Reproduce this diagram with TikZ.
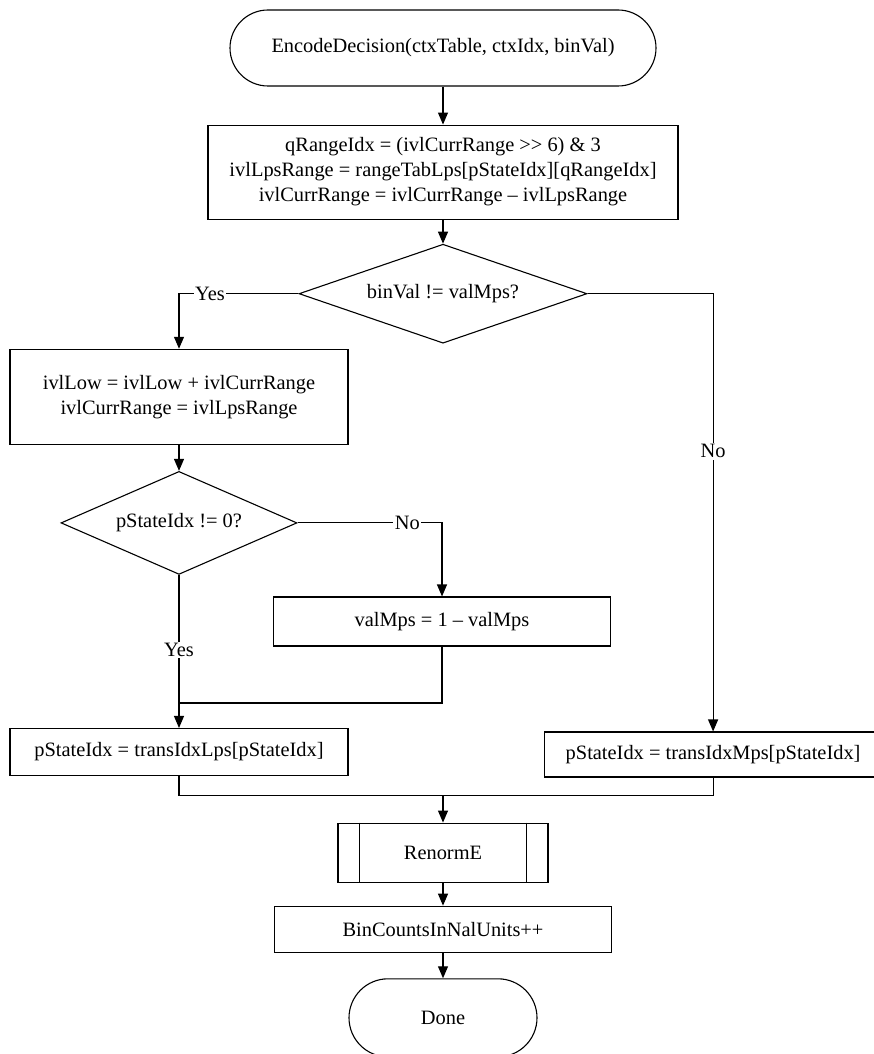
\documentclass[tikz,border=0pt]{standalone}
\usepackage{fontspec}
\setmainfont{Liberation Serif}
\usepackage{tikz}
\usetikzlibrary{shapes.geometric, arrows.meta, positioning}
\tikzstyle{terminal} = [rectangle, rounded corners=38pt, minimum width=426pt, minimum height=76pt, text centered, draw]
\tikzstyle{process} = [rectangle, minimum width=337pt, minimum height=47pt, text centered, align=center, draw]
\tikzstyle{decision} = [diamond, aspect=2.6, inner sep=0pt, text centered, draw]
\tikzstyle{subproc} = [rectangle, minimum width=210pt, minimum height=59pt, text centered, draw]
\tikzstyle{arrow} = [->, >={Triangle[length=12pt,width=10pt]}]
\tikzstyle{lbl} = [fill=white, inner sep=1.5pt]

\begin{document}
\begin{tikzpicture}[line width=1.1pt, font=\fontsize{20.4}{25}\selectfont]
        \useasboundingbox (0,0) rectangle (874pt,-1054pt);
        % Nodes
        \node (start) [terminal] at (443pt,-48pt) {EncodeDecision(ctxTable, ctxIdx, binVal)};
        \node (range) [process, below=38pt of start, minimum width=470pt, minimum height=94pt] {qRangeIdx = (ivlCurrRange >{}> 6) \& 3\\ivlLpsRange = rangeTabLps[pStateIdx][qRangeIdx]\\ivlCurrRange = ivlCurrRange – ivlLpsRange};
        \node (dec1) [decision, below=24pt of range, minimum width=288pt, minimum height=99pt] {binVal != valMps?};

        % Yes branch
        \node (update) [process, below=5pt of dec1, xshift=-264pt, minimum width=338pt, minimum height=95pt] {ivlLow = ivlLow + ivlCurrRange\\ivlCurrRange = ivlLpsRange};
        \node (dec2) [decision, below=26pt of update, minimum width=236pt, minimum height=103pt] {pStateIdx != 0?};
        \node (flip) [process, below=21.5pt of dec2, xshift=263pt, minimum height=49pt] {valMps = 1 – valMps};
        \node (lps) [process, below=153pt of dec2, minimum width=338pt] {pStateIdx = transIdxLps[pStateIdx]};

        % No branch
        \node (mps) [process, right=195pt of lps, yshift=-2.5pt, minimum width=338pt, minimum height=45pt] {pStateIdx = transIdxMps[pStateIdx]};

        \node (renorm) [subproc, below=46.5pt of lps, xshift=264pt] {RenormE};
        \node (count) [process, below=23pt of renorm, minimum height=46pt] {BinCountsInNalUnits++};
        \node (done) [terminal, below=25.5pt of count, minimum width=188pt, minimum height=78pt, rounded corners=39pt] {Done};

        \coordinate (join) at ([yshift=25pt]lps.north);
        \coordinate (merge) at ([yshift=27pt]renorm.north);

        % Arrows
        \draw [arrow] (start) -- (range);
        \draw [arrow] (range) -- (dec1);
        \draw [arrow] (dec1.west) -| node[lbl, pos=0.37] {Yes} (update.north);
        \draw [arrow] (dec1.east) -| node[lbl, pos=0.68] {No} (mps.north);
        \draw [arrow] (update) -- (dec2);
        \draw [arrow] (dec2.east) -| node[lbl, pos=0.38] {No} (flip.north);
        \draw [arrow] (dec2.south) -- node[lbl, pos=0.49] {Yes} (lps.north);
        \draw (flip.south) |- (join);

        % merge into RenormE
        \draw (lps.south) |- (merge);
        \draw (mps.south) |- (merge);
        \draw [arrow] (merge) -- (renorm);
        \draw ([xshift=22pt]renorm.north west) -- ([xshift=22pt]renorm.south west);
        \draw ([xshift=-22pt]renorm.north east) -- ([xshift=-22pt]renorm.south east);
        \draw [arrow] (renorm) -- (count);
        \draw [arrow] (count) -- (done);
    \end{tikzpicture}
\end{document}
